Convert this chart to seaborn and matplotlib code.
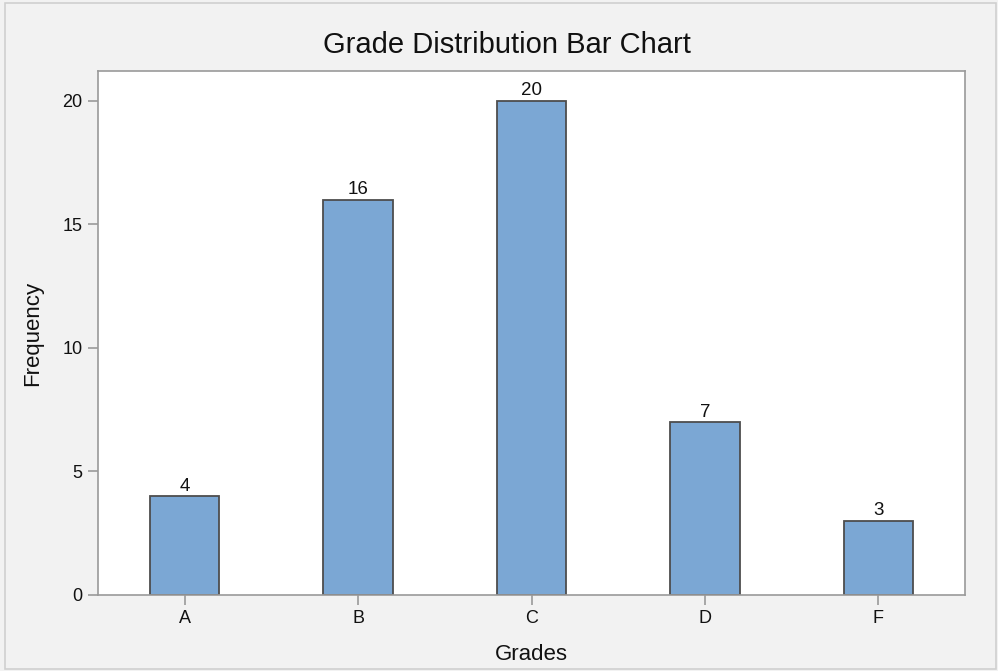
import matplotlib
matplotlib.use("Agg")
import matplotlib.pyplot as plt
import seaborn as sns
import pandas as pd
from matplotlib.patches import Rectangle

grades = ["A", "B", "C", "D", "F"]
frequency = [4, 16, 20, 7, 3]
y_ticks = [0, 5, 10, 15, 20]

sns.set_theme(style="white")
plt.rcParams["font.family"] = ["Liberation Sans", "DejaVu Sans"]

bg = "#f2f2f2"
bar_color = "#7ba7d4"
edge = "#4d4d4d"
spine = "#9a9a9a"
text = "#111111"

fig = plt.figure(figsize=(9.98, 6.71), dpi=100, facecolor=bg)
ax = fig.add_axes([0.0982, 0.1133, 0.8688, 0.7807])
ax.set_facecolor("white")

df = pd.DataFrame({"Grades": grades, "Frequency": frequency})
sns.barplot(data=df, x="Grades", y="Frequency", color=bar_color, width=0.4,
            edgecolor=edge, linewidth=1.3, saturation=1, ax=ax)

for container in ax.containers:
    ax.bar_label(container, labels=[str(v) for v in frequency], padding=1,
                 fontsize=13.5, color=text)

ax.set_xlim(-0.5, 4.5)
ax.set_ylim(0, 21.2)
ax.set_yticks(y_ticks)
ax.set_yticklabels([str(t) for t in y_ticks])

for s in ax.spines.values():
    s.set_visible(True)
    s.set_color(spine)
    s.set_linewidth(1.2)

ax.tick_params(axis="both", which="both", direction="out", length=7, width=1.2,
               color=spine, labelsize=13, labelcolor=text, pad=4,
               bottom=True, left=True)

ax.set_xlabel("Grades", fontsize=16, color=text, labelpad=12)
ax.set_ylabel("Frequency", fontsize=16, color=text, labelpad=14)
fig.text(507 / 998, 1 - 45 / 671, "Grade Distribution Bar Chart",
         fontsize=21, color=text, ha="center", va="center")

fig.patches.append(Rectangle((5 / 998, 2 / 671), 991 / 998, 666 / 671,
                             transform=fig.transFigure, fill=False,
                             edgecolor="#d0d0d0", linewidth=1.2))

fig.savefig("out.png", dpi=100, facecolor=bg)
